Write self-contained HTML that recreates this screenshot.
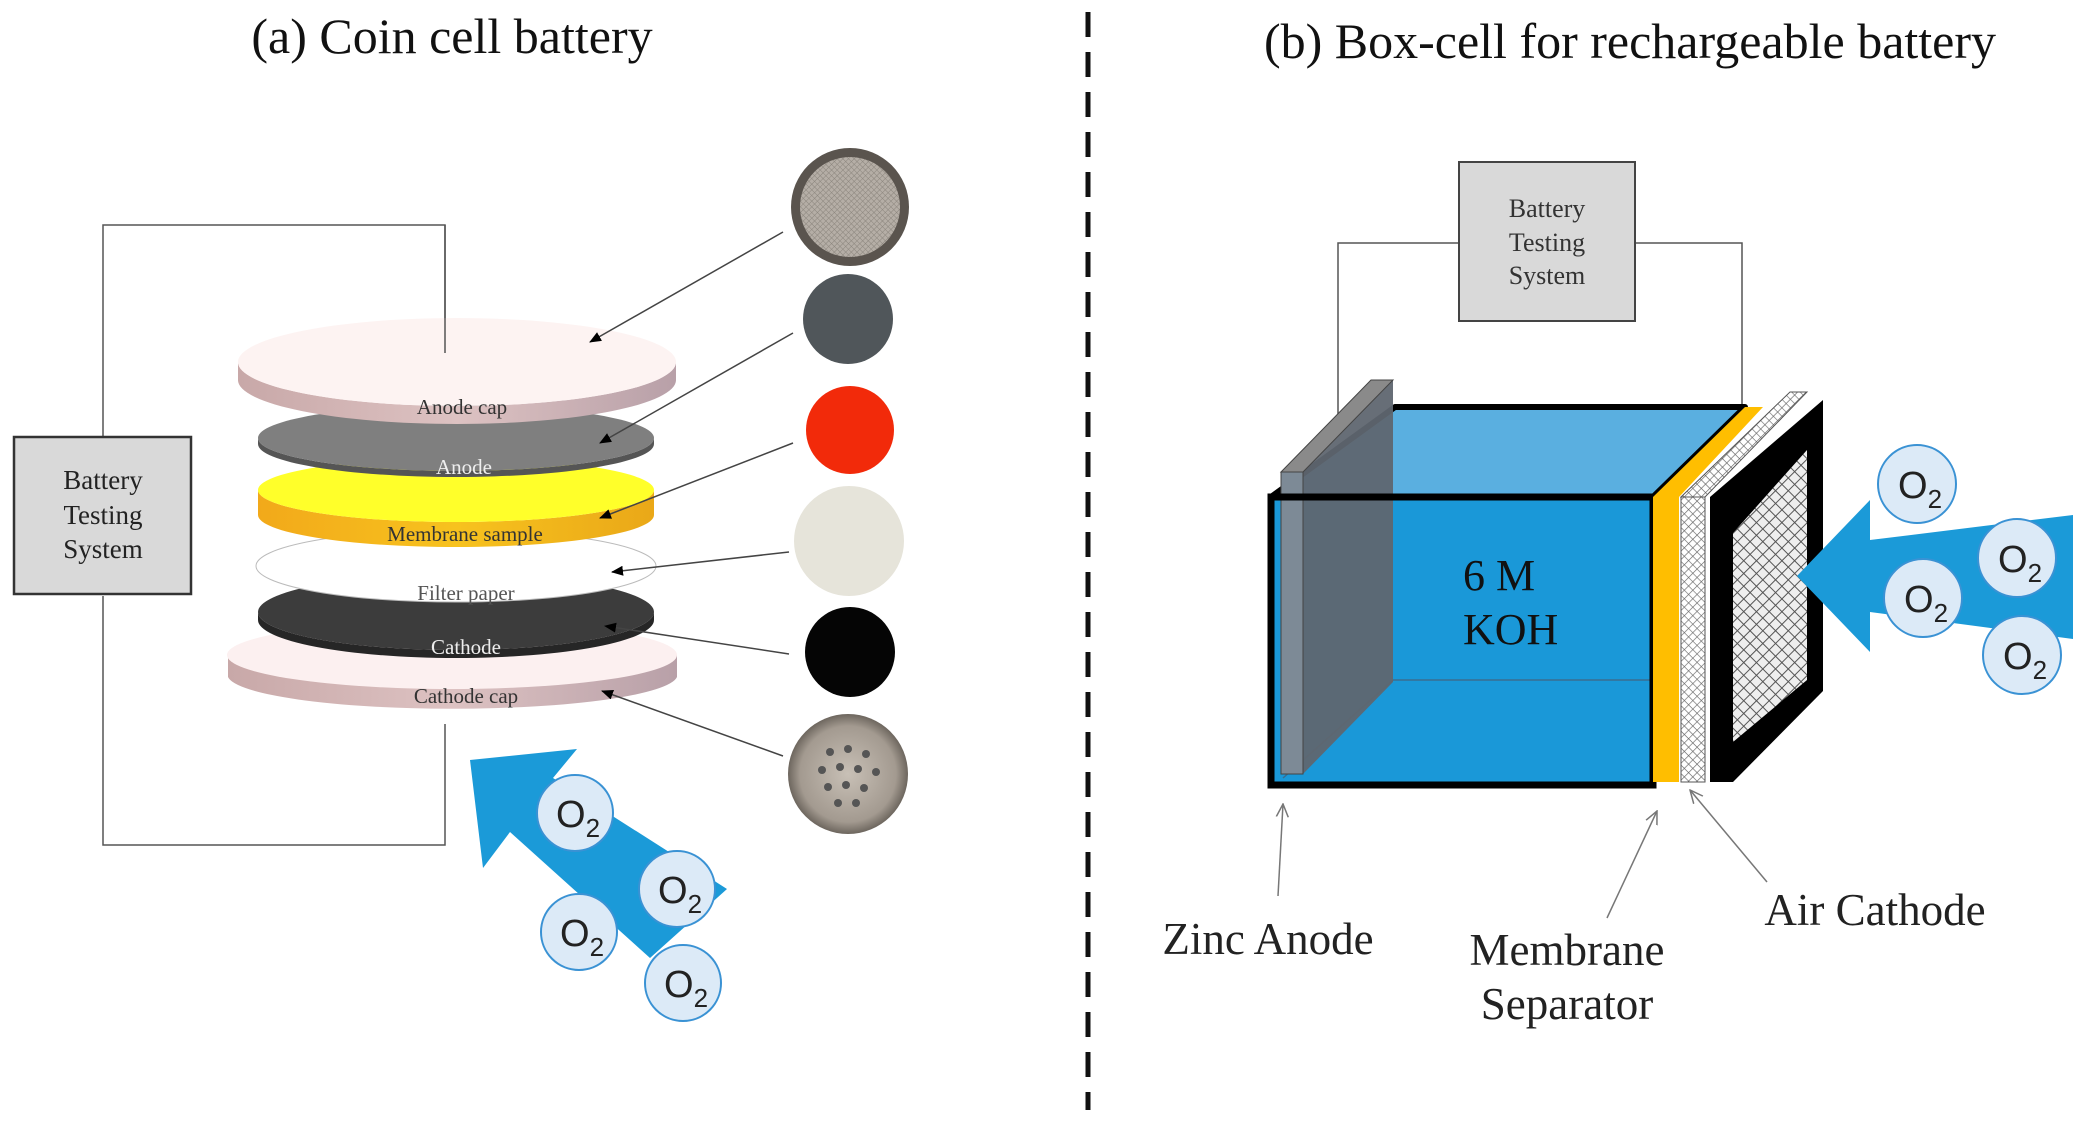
<!DOCTYPE html>
<html><head><meta charset="utf-8"><style>
html,body{margin:0;padding:0;background:#fff}
svg{display:block}
text{font-family:"Liberation Serif",serif}
.o{font-family:"Liberation Sans",sans-serif}
</style></head><body>
<svg width="2081" height="1123" viewBox="0 0 2081 1123" xmlns="http://www.w3.org/2000/svg">
<defs>
<marker id="ah" markerWidth="12" markerHeight="10" refX="11" refY="5" orient="auto" markerUnits="userSpaceOnUse"><path d="M0,0 L12,5 L0,10 z" fill="#000"/></marker>
<marker id="ao" markerWidth="14" markerHeight="14" refX="13" refY="7" orient="auto" markerUnits="userSpaceOnUse"><path d="M0,1 L13,7 L0,13" fill="none" stroke="#777" stroke-width="1.5"/></marker>
<pattern id="mesh" width="9" height="9" patternUnits="userSpaceOnUse" patternTransform="rotate(45)"><rect width="9" height="9" fill="#eee"/><path d="M0,0H9M0,0V9" stroke="#555" stroke-width="2"/></pattern>
<pattern id="mesh2" width="6" height="6" patternUnits="userSpaceOnUse" patternTransform="rotate(45)"><rect width="6" height="6" fill="#fff"/><path d="M0,0H6M0,0V6" stroke="#666" stroke-width="1.3"/></pattern>
<pattern id="fine" width="4" height="4" patternUnits="userSpaceOnUse" patternTransform="rotate(45)"><rect width="4" height="4" fill="#b5aea6"/><path d="M0,0H4M0,0V4" stroke="#8a847c" stroke-width="1"/></pattern>
<radialGradient id="met"><stop offset="0" stop-color="#c8c0b6"/><stop offset="0.8" stop-color="#a39a90"/><stop offset="1" stop-color="#6d665e"/></radialGradient>
<linearGradient id="pink" x1="0" x2="1"><stop offset="0" stop-color="#c8a8a8"/><stop offset="0.5" stop-color="#ddc2c2"/><stop offset="1" stop-color="#b8a0a8"/></linearGradient>
<linearGradient id="orange" x1="0" x2="1"><stop offset="0" stop-color="#f2a91a"/><stop offset="0.5" stop-color="#f7c21e"/><stop offset="1" stop-color="#eaa818"/></linearGradient>
</defs>

<!-- LEFT PANEL -->
<text x="452" y="53" font-size="50" text-anchor="middle" fill="#111">(a) Coin cell battery</text>
<polyline points="445,353 445,225 103,225 103,437" fill="none" stroke="#555" stroke-width="1.5"/>
<polyline points="103,596 103,845 445,845 445,724" fill="none" stroke="#555" stroke-width="1.5"/>
<rect x="14" y="437" width="177" height="157" fill="#d9d9d9" stroke="#333" stroke-width="2.5"/>
<text x="103" y="489" font-size="27" text-anchor="middle" fill="#222">Battery</text>
<text x="103" y="524" font-size="27" text-anchor="middle" fill="#222">Testing</text>
<text x="103" y="558" font-size="27" text-anchor="middle" fill="#222">System</text>

<!-- cathode cap -->
<path d="M228,655 A225,34 0 0 0 677,655 L677,677 A225,34 0 0 1 228,677 Z" fill="url(#pink)"/>
<ellipse cx="452" cy="655" rx="225" ry="34" fill="#fcf0f0"/>
<!-- cathode -->
<path d="M258,612 A198,38 0 0 0 654,612 L654,620 A198,38 0 0 1 258,620 Z" fill="#262626"/>
<ellipse cx="456" cy="612" rx="198" ry="38" fill="#3c3c3c"/>
<!-- filter paper -->
<ellipse cx="456" cy="566" rx="200" ry="36" fill="#fff" stroke="#bbb" stroke-width="1"/>
<!-- membrane -->
<path d="M258,490 A198,32 0 0 0 654,490 L654,515 A198,32 0 0 1 258,515 Z" fill="url(#orange)"/>
<ellipse cx="456" cy="490" rx="198" ry="32" fill="#ffff2a"/>
<!-- anode -->
<path d="M258,438 A198,33 0 0 0 654,438 L654,444 A198,33 0 0 1 258,444 Z" fill="#555"/>
<ellipse cx="456" cy="438" rx="198" ry="33" fill="#7f7f7f"/>
<!-- anode cap -->
<path d="M238,362 A219,44 0 0 0 676,362 L676,380 A219,44 0 0 1 238,380 Z" fill="url(#pink)"/>
<ellipse cx="457" cy="362" rx="219" ry="44" fill="#fdf3f2"/>
<line x1="445" y1="225" x2="445" y2="353" stroke="#555" stroke-width="1.5"/>

<text x="462" y="414" font-size="21" text-anchor="middle" fill="#333">Anode cap</text>
<text x="464" y="474" font-size="21" text-anchor="middle" fill="#eee">Anode</text>
<text x="465" y="541" font-size="21" text-anchor="middle" fill="#333">Membrane sample</text>
<text x="466" y="600" font-size="21" text-anchor="middle" fill="#555">Filter paper</text>
<text x="466" y="654" font-size="21" text-anchor="middle" fill="#eee">Cathode</text>
<text x="466" y="703" font-size="21" text-anchor="middle" fill="#333">Cathode cap</text>

<!-- photos -->
<circle cx="850" cy="207" r="59" fill="#5a544e"/>
<circle cx="850" cy="207" r="50" fill="url(#fine)"/>
<circle cx="848" cy="319" r="45" fill="#50565a"/>
<circle cx="850" cy="430" r="44" fill="#f22a0a"/>
<circle cx="849" cy="541" r="55" fill="#e6e4da"/>
<circle cx="850" cy="652" r="45" fill="#050505"/>
<circle cx="848" cy="774" r="60" fill="url(#met)"/>
<g fill="#555">
<circle cx="830" cy="752" r="4"/><circle cx="848" cy="749" r="4"/><circle cx="866" cy="754" r="4"/>
<circle cx="822" cy="770" r="4"/><circle cx="840" cy="767" r="4"/><circle cx="858" cy="769" r="4"/><circle cx="876" cy="772" r="4"/>
<circle cx="828" cy="787" r="4"/><circle cx="846" cy="785" r="4"/><circle cx="864" cy="788" r="4"/>
<circle cx="838" cy="803" r="4"/><circle cx="856" cy="803" r="4"/></g>

<!-- leader arrows -->
<g stroke="#444" stroke-width="1.5" marker-end="url(#ah)">
<line x1="783" y1="232" x2="590" y2="342"/>
<line x1="793" y1="333" x2="600" y2="443"/>
<line x1="793" y1="443" x2="600" y2="518"/>
<line x1="789" y1="552" x2="612" y2="572"/>
<line x1="789" y1="654" x2="605" y2="626"/>
<line x1="783" y1="756" x2="602" y2="691"/>
</g>

<!-- blue arrow left -->
<polygon points="470,760 577,749 553,778 727,889 650,958 510,832 483,868" fill="#1b9ad8"/>
<g fill="#dceaf7" stroke="#3a92d4" stroke-width="2">
<circle cx="575" cy="813" r="38"/><circle cx="677" cy="889" r="38"/><circle cx="579" cy="932" r="38"/><circle cx="683" cy="983" r="38"/></g>
<g fill="#222">
<text class="o" x="556" y="827" font-size="38">O<tspan font-size="26" dy="10">2</tspan></text>
<text class="o" x="658" y="903" font-size="38">O<tspan font-size="26" dy="10">2</tspan></text>
<text class="o" x="560" y="946" font-size="38">O<tspan font-size="26" dy="10">2</tspan></text>
<text class="o" x="664" y="997" font-size="38">O<tspan font-size="26" dy="10">2</tspan></text>
</g>

<!-- divider -->
<line x1="1088" y1="12" x2="1088" y2="1110" stroke="#111" stroke-width="5" stroke-dasharray="25,15"/>

<!-- RIGHT PANEL -->
<text x="1630" y="58" font-size="50" text-anchor="middle" fill="#111">(b) Box-cell for rechargeable battery</text>
<polyline points="1338,425 1338,243 1459,243" fill="none" stroke="#555" stroke-width="1.5"/>
<polyline points="1635,243 1742,243 1742,405" fill="none" stroke="#555" stroke-width="1.5"/>
<rect x="1459" y="162" width="176" height="159" fill="#d9d9d9" stroke="#444" stroke-width="2"/>
<text x="1547" y="217" font-size="26" text-anchor="middle" fill="#333">Battery</text>
<text x="1547" y="251" font-size="26" text-anchor="middle" fill="#333">Testing</text>
<text x="1547" y="284" font-size="26" text-anchor="middle" fill="#333">System</text>

<!-- box -->
<polygon points="1271,497 1395,407 1745,407 1653,497" fill="#5aafe0" stroke="#000" stroke-width="6" stroke-linejoin="round"/>
<rect x="1271" y="497" width="382" height="288" fill="#1a98d8"/>
<line x1="1393" y1="680" x2="1653" y2="680" stroke="#3a6e90" stroke-width="1.5"/>
<line x1="1283" y1="778" x2="1393" y2="680" stroke="#3a6e90" stroke-width="1.5"/>
<!-- zinc plate -->
<polygon points="1303,472 1393,380 1393,682 1303,774" fill="#5f6670" opacity="0.95"/>
<polygon points="1281,472 1371,380 1393,380 1303,472" fill="#8a8a8a" stroke="#444" stroke-width="1"/>
<rect x="1281" y="472" width="22" height="302" fill="#7d8a96" stroke="#444" stroke-width="1"/>
<rect x="1271" y="497" width="382" height="288" fill="none" stroke="#000" stroke-width="7"/>
<text x="1463" y="590" font-size="44" fill="#111">6 M</text>
<text x="1463" y="644" font-size="44" fill="#111">KOH</text>
<!-- membrane separator -->
<polygon points="1653,497 1745,407 1763,407 1679,497" fill="#ffbe00"/>
<rect x="1653" y="497" width="26" height="285" fill="#ffbe00"/>
<!-- mesh layer -->
<polygon points="1681,497 1790,392 1807,392 1705,497" fill="url(#mesh2)" stroke="#555" stroke-width="1"/>
<rect x="1681" y="497" width="24" height="285" fill="url(#mesh2)" stroke="#555" stroke-width="1"/>
<!-- black frame -->
<polygon points="1710,497 1823,400 1823,691 1733,782 1710,782" fill="#000"/>
<polygon points="1733,533 1807,450 1807,680 1733,742" fill="url(#mesh)"/>

<!-- blue arrow right -->
<polygon points="1797,576 1870,500 1870,540 2073,515 2073,639 1870,612 1870,652" fill="#1b9ad8"/>
<g fill="#dceaf7" stroke="#3a92d4" stroke-width="2">
<circle cx="1917" cy="484" r="39"/><circle cx="2017" cy="558" r="39"/><circle cx="1923" cy="598" r="39"/><circle cx="2022" cy="655" r="39"/></g>
<g fill="#222">
<text class="o" x="1898" y="498" font-size="38">O<tspan font-size="26" dy="10">2</tspan></text>
<text class="o" x="1998" y="572" font-size="38">O<tspan font-size="26" dy="10">2</tspan></text>
<text class="o" x="1904" y="612" font-size="38">O<tspan font-size="26" dy="10">2</tspan></text>
<text class="o" x="2003" y="669" font-size="38">O<tspan font-size="26" dy="10">2</tspan></text>
</g>

<!-- labels -->
<g stroke="#777" stroke-width="1.5" fill="none">
<line x1="1278" y1="896" x2="1283" y2="804" marker-end="url(#ao)"/>
<line x1="1607" y1="918" x2="1657" y2="811" marker-end="url(#ao)"/>
<line x1="1767" y1="882" x2="1690" y2="790" marker-end="url(#ao)"/>
</g>
<text x="1268" y="954" font-size="45" text-anchor="middle" fill="#222">Zinc Anode</text>
<text x="1567" y="965" font-size="45" text-anchor="middle" fill="#222">Membrane</text>
<text x="1567" y="1019" font-size="45" text-anchor="middle" fill="#222">Separator</text>
<text x="1875" y="925" font-size="45" text-anchor="middle" fill="#222">Air Cathode</text>
</svg>
</body></html>
